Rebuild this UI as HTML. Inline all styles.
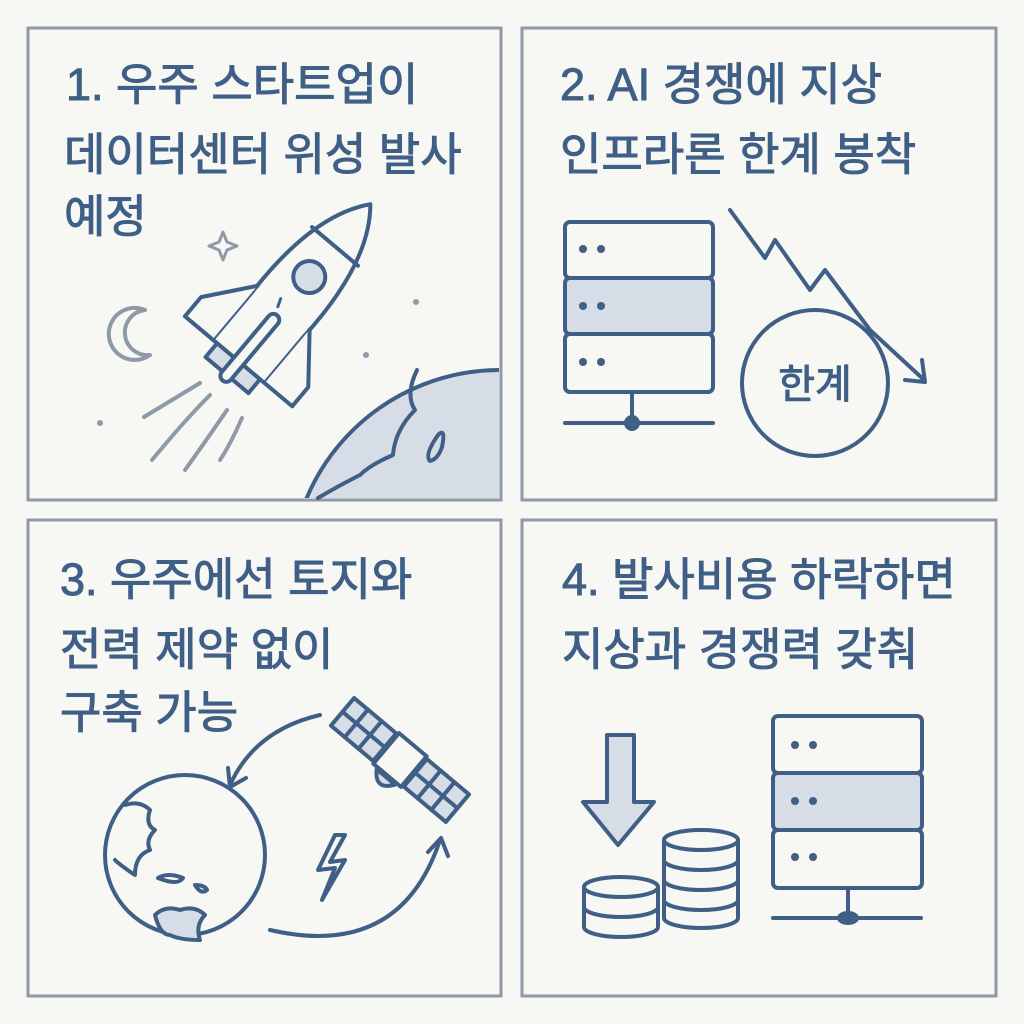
<!DOCTYPE html>
<html><head><meta charset="utf-8"><style>
html,body{margin:0;padding:0;background:#f7f7f3;}
svg{display:block}
text{font-family:"Liberation Sans","Noto Sans CJK KR",sans-serif;fill:#3f5f86;stroke:#3f5f86;stroke-width:1;font-size:45px;}
</style></head><body>
<svg width="1024" height="1024" viewBox="0 0 1024 1024">
<rect width="1024" height="1024" fill="#f7f7f3"/>
<g fill="none" stroke="#8f9aa8" stroke-width="3">
<rect x="28" y="28" width="473" height="472"/>
<rect x="522" y="28" width="474" height="472"/>
<rect x="28" y="520" width="473" height="476"/>
<rect x="522" y="520" width="474" height="476"/>
</g>
<text x="66" y="100">1. 우주 스타트업이</text>
<text x="64" y="170">데이터센터 위성 발사</text>
<text x="64" y="232">예정</text>
<text x="560" y="100">2. AI 경쟁에 지상</text>
<text x="560" y="170">인프라론 한계 봉착</text>
<text x="60" y="595">3. 우주에선 토지와</text>
<text x="60" y="665">전력 제약 없이</text>
<text x="60" y="728">구축 가능</text>
<text x="562" y="595">4. 발사비용 하락하면</text>
<text x="562" y="665">지상과 경쟁력 갖춰</text>

<g stroke="#3f5f86" stroke-width="4" fill="none" stroke-linecap="round" stroke-linejoin="round">
<!-- panel 1 -->
<clipPath id="c1"><rect x="30" y="30" width="469" height="468"/></clipPath>
<circle cx="500" cy="580" r="210" fill="#d6dde6" clip-path="url(#c1)"/>
<path d="M417,370 Q405,395 415,410 Q395,430 393,455 Q370,465 360,475 Q340,485 318,498" />
<path d="M438,435 q8,-8 4,12 q-4,12 -12,14 q-6,-6 8,-26z"/>
<path d="M145,310 a26,26 0 1 0 5,45 a22,22 0 1 1 -5,-45z" stroke="#8f9aa8" fill="none"/>
<path d="M223,232 l4,10 l10,4 l-10,4 l-4,10 l-4,-10 l-10,-4 l10,-4z" stroke="#8f9aa8" stroke-width="3"/>
<g fill="#8f9aa8" stroke="none"><circle cx="416" cy="302" r="3"/><circle cx="366" cy="355" r="3"/><circle cx="100" cy="423" r="3"/></g>
<g stroke="#8f9aa8"><path d="M144,417 Q180,395 200,383"/><path d="M152,460 Q185,420 210,395"/><path d="M185,470 Q210,435 227,410"/><path d="M220,460 Q230,445 242,418"/></g>
<g transform="translate(290,300) rotate(40)">
<path d="M0,-125 Q38,-80 34,20 L34,80 L-34,80 L-34,20 Q-38,-80 0,-125z" fill="#f7f7f3"/>
<path d="M-30,-70 L30,-70"/>
<circle cx="0" cy="-30" r="16" fill="#d6dde6"/>
<path d="M-8,5 l3,8 M-5,22 l2,8 M-3,40 l1,6" stroke-width="3"/>
<path d="M-34,10 L-70,55 L-70,80 L-34,80" fill="#f7f7f3"/>
<path d="M34,10 L70,55 L70,80 L34,80" fill="#f7f7f3"/>
<rect x="-28" y="80" width="56" height="18" fill="#d6dde6"/>
<rect x="-6" y="20" width="12" height="85" rx="6" fill="#f7f7f3"/>
</g>

<!-- panel 2 -->
<rect x="565" y="222" width="148" height="56" rx="5" fill="#f7f7f3"/>
<rect x="565" y="278" width="148" height="56" rx="5" fill="#d6dde6"/>
<rect x="565" y="334" width="148" height="58" rx="5" fill="#f7f7f3"/>
<line x1="632" y1="392" x2="632" y2="420"/><line x1="565" y1="423" x2="713" y2="423"/>
<circle cx="632" cy="423" r="6" fill="#3f5f86"/>
<g fill="#3f5f86" stroke="none"><circle cx="583" cy="249" r="4"/><circle cx="601" cy="249" r="4"/><circle cx="583" cy="306" r="4"/><circle cx="601" cy="306" r="4"/><circle cx="583" cy="362" r="4"/><circle cx="601" cy="362" r="4"/></g>
<path d="M730,210 L765,258 L775,240 L810,290 L825,270 L870,330 L922,378"/>
<path d="M905,380 L925,382 L922,360"/>
<circle cx="815" cy="383" r="73" fill="#f7f7f3"/>
<text x="815" y="398" text-anchor="middle" style="font-size:40px;stroke-width:1">한계</text>

<!-- panel 3 -->
<circle cx="185" cy="855" r="80" fill="#f7f7f3"/>
<path d="M125,805 q15,-5 25,5 q-5,15 5,20 q-10,10 -5,20 q-15,5 -15,25 q-15,-10 -20,-15" />
<path d="M158,878 q10,-6 25,0 q-5,8 -25,0z M195,885 q10,0 12,5 q-6,5 -12,-5z"/>
<path d="M155,915 q10,-10 25,-5 q15,-5 25,5 q-10,10 -5,25 q-20,0 -30,-5 q-10,0 -15,-20z" fill="#d6dde6"/>
<path d="M320,715 Q255,730 230,785"/><path d="M228,768 L230,787 L246,778"/>
<path d="M270,930 Q400,960 440,840"/><path d="M428,852 L441,838 L448,856"/>
<path d="M335,835 L318,870 L335,868 L322,900 L345,860 L330,862 L345,835z"/>
<g transform="translate(400,760) rotate(40)">
<rect x="-18" y="-20" width="36" height="40" fill="#f7f7f3"/>
<rect x="-75" y="-18" width="55" height="36" fill="#d6dde6"/>
<path d="M-57,-18 v36 M-39,-18 v36 M-75,0 h55"/>
<rect x="20" y="-18" width="55" height="36" fill="#d6dde6"/>
<path d="M38,-18 v36 M56,-18 v36 M20,0 h55"/>
<path d="M-12,22 q12,18 24,0z" fill="#d6dde6"/>
</g>

<!-- panel 4 -->
<path d="M607,735 L634,735 L634,802 L654,802 L618,845 L583,802 L607,802z" fill="#d6dde6"/>
<g fill="#f7f7f3">
<path d="M584,887 L584,927 A37,10 0 0 0 658,927 L658,887"/>
<path d="M584,907 A37,10 0 0 0 658,907"/>
<ellipse cx="621" cy="887" rx="37" ry="10"/>
<path d="M664,840 L664,918 A37,10 0 0 0 738,918 L738,840"/>
<path d="M664,860 A37,10 0 0 0 738,860 M664,880 A37,10 0 0 0 738,880 M664,900 A37,10 0 0 0 738,900"/>
<ellipse cx="701" cy="840" rx="37" ry="10"/>
</g>
<rect x="773" y="716" width="149" height="57" rx="5" fill="#f7f7f3"/>
<rect x="773" y="773" width="149" height="57" rx="5" fill="#d6dde6"/>
<rect x="773" y="830" width="149" height="58" rx="5" fill="#f7f7f3"/>
<line x1="848" y1="888" x2="848" y2="916"/><line x1="773" y1="918" x2="921" y2="918"/>
<ellipse cx="848" cy="918" rx="9" ry="5" fill="#3f5f86"/>
<g fill="#3f5f86" stroke="none"><circle cx="795" cy="745" r="4"/><circle cx="813" cy="745" r="4"/><circle cx="795" cy="801" r="4"/><circle cx="813" cy="801" r="4"/><circle cx="795" cy="857" r="4"/><circle cx="813" cy="857" r="4"/></g>
</g>
</svg>
</body></html>
